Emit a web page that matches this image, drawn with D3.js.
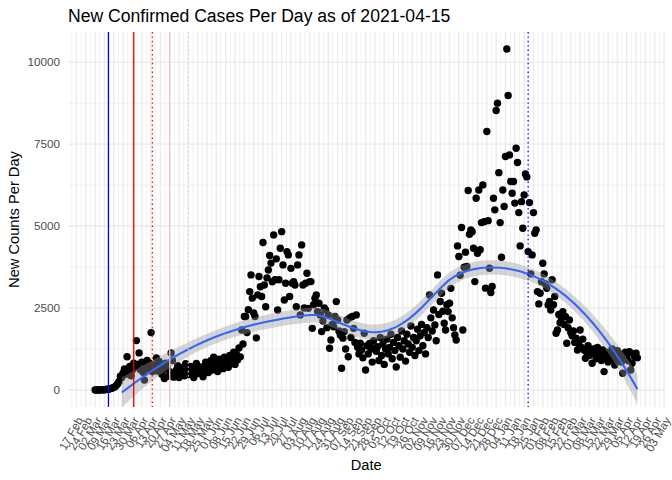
<!DOCTYPE html>
<html><head><meta charset="utf-8">
<script src="https://cdn.jsdelivr.net/npm/d3@7"></script>
<style>body{margin:0;background:#fff} text{font-family:"Liberation Sans",Arial,sans-serif}</style>
</head><body><svg id="c" width="672" height="480"></svg>
<script>
// ---------------- data ----------------
const titleText = "New Confirmed Cases Per Day as of 2021-04-15";
const xTitle = "Date";
const yTitle = "New Counts Per Day";
const startDate = "2020-03-02";
const smoothFrom = "2020-03-22";
const yTicks = [0, 2500, 5000, 7500, 10000];
const newCases = [
0,0,1,0,2,3,5,8,12,20,
25,35,48,60,80,100,140,190,260,420,
380,520,640,480,1015,560,720,430,610,820,
690,1505,780,1130,620,850,540,300,710,900,
640,820,1750,560,760,690,975,580,870,720,
480,610,350,820,700,420,560,1130,900,390,
520,610,740,380,450,680,560,430,800,620,
470,590,720,540,380,660,810,500,620,700,
560,400,720,850,640,530,760,900,610,1000,
700,820,560,940,760,880,650,1000,780,915,
690,1050,860,960,1150,780,1100,920,1280,1010,
1830,1400,2240,2240,1750,2450,3000,3510,2800,2350,
2240,1590,2900,3460,3150,2850,4500,3200,2540,3420,
3660,4100,3870,3300,4730,3360,4000,2440,3360,4325,
4830,3815,2745,3255,4220,4120,2850,3710,3255,3305,
3200,2540,3815,4120,2290,4425,3200,2500,3255,3560,
2490,3305,3305,1880,2600,2800,2900,2390,2645,2290,
1780,2100,2500,2440,1900,2290,1270,1525,2000,1930,
2240,2695,2135,1800,1680,660,1580,1780,1250,2135,
1015,2200,1600,2240,1880,1450,2290,1300,1100,1425,
1220,980,1730,610,1350,1100,1420,1250,850,1500,1280,
1180,1320,900,1600,1050,1400,780,1250,1550,1100,
1300,1700,950,1450,1200,700,1600,1350,1000,1800,
1250,1500,880,1700,1400,1150,1950,1300,1600,1050,
1500,1850,1200,1650,2000,1350,1750,1100,1900,1600,
2900,2200,1800,2440,1985,1500,3510,2300,2700,2950,
2400,2035,1830,2600,2390,2645,3100,2200,1900,1680,
1525,4395,4070,3500,4955,1830,3745,4200,3765,6085,
4750,4885,4830,4325,3305,5850,4170,6100,4275,5105,
6255,5135,3105,7885,5165,3715,2970,3155,5850,5495,
8525,8750,6630,5105,4050,6100,5595,7120,10400,8985,
7170,6360,6000,6360,5700,7375,6940,5410,4395,5745,
4935,5950,6590,6500,4220,5715,3540,4120,5410,4780,
4885,3000,2625,2950,3300,3865,3540,3235,3100,2595,
2700,2440,3360,2600,2850,1730,1830,2300,2050,2190,
2390,2000,2240,1425,1900,2135,1750,1650,1800,1450,
1580,1220,1400,1830,1300,1550,1220,965,1150,1350,
1050,1200,815,1250,1100,950,1300,1050,1150,900,
1220,560,1000,1150,850,915,1100,1250,950,760,
1050,1200,900,1100,850,510,1000,1150,1050,900,
1170,610,815,1100,1015,1120,980
];
const eventDates  = ["2020-03-12","2020-03-31","2020-04-14","2020-04-27","2020-05-11","2021-01-21"];
const eventColors = ["#0000FF","#E00000","#FF0000","#F8BFC4","#FFC0CB","#0000FF"];
const eventDashed = [false,false,true,false,true,true];
const loessSpan = 0.77;

// ---------------- setup ----------------
const parse = d3.utcParse("%Y-%m-%d");
const start = parse(startDate);
const data = newCases.map((v,i)=>({date:d3.utcDay.offset(start,i), value:v}));
const svg = d3.select("#c");
const P = {l:68, r:664.5, t:32, b:407};

const xe = d3.extent(data,d=>d.date), xs = xe[1]-xe[0];
const x = d3.scaleUtc().domain([new Date(+xe[0]-0.05*xs), new Date(+xe[1]+0.05*xs)]).range([P.l,P.r]);
const ymn = d3.min(newCases), ymx = d3.max(newCases), yr = ymx-ymn;
const y = d3.scaleLinear().domain([ymn-0.05*yr, ymx+0.05*yr]).range([P.b,P.t]);

// ---------------- grid ----------------
const grid = svg.append("g");
const majors = d3.utcMonday.range(x.domain()[0], x.domain()[1]);
const minors = [];
majors.forEach(m=>{ minors.push(new Date(+m - 3.5*864e5)); });
minors.push(new Date(+majors[majors.length-1] + 3.5*864e5));
const inX = d=> d>=x.domain()[0] && d<=x.domain()[1];
const yMinor = d3.range(yTicks.length-1).map(i=>(yTicks[i]+yTicks[i+1])/2);
grid.selectAll(".ym").data(yMinor).join("line")
  .attr("x1",P.l).attr("x2",P.r).attr("y1",d=>y(d)).attr("y2",d=>y(d))
  .attr("stroke","#EBEBEB").attr("stroke-width",0.71);
grid.selectAll(".xm").data(minors.filter(inX)).join("line")
  .attr("x1",d=>x(d)).attr("x2",d=>x(d)).attr("y1",P.t).attr("y2",P.b)
  .attr("stroke","#EBEBEB").attr("stroke-width",0.71);
grid.selectAll(".yM").data(yTicks).join("line")
  .attr("x1",P.l).attr("x2",P.r).attr("y1",d=>y(d)).attr("y2",d=>y(d))
  .attr("stroke","#EBEBEB").attr("stroke-width",1.42);
grid.selectAll(".xM").data(majors).join("line")
  .attr("x1",d=>x(d)).attr("x2",d=>x(d)).attr("y1",P.t).attr("y2",P.b)
  .attr("stroke","#EBEBEB").attr("stroke-width",1.42);

// ---------------- points ----------------
svg.append("g").selectAll("circle").data(data).join("circle")
  .attr("cx",d=>x(d.date)).attr("cy",d=>y(d.value)).attr("r",3.7).attr("fill","#000");

// ---------------- loess smooth ----------------
const sm = data.filter(d=>d.date>=parse(smoothFrom));
const t0 = +sm[0].date;
const X = sm.map(d=>(+d.date - t0)/864e5/100), Y = sm.map(d=>d.value);
const n = X.length, q = Math.floor(n*loessSpan);
function inv3(m){
  const [a,b,c]=m[0],[d,e,f]=m[1],[g,h,i]=m[2];
  const A=e*i-f*h, B=-(d*i-f*g), C=d*h-e*g;
  const det=a*A+b*B+c*C;
  return [[A/det,-(b*i-c*h)/det,(b*f-c*e)/det],
          [B/det,(a*i-c*g)/det,-(a*f-c*d)/det],
          [C/det,-(a*h-b*g)/det,(a*e-b*d)/det]];
}
function weightsAt(x0){
  const dist = X.map(v=>Math.abs(v-x0));
  const srt = dist.slice().sort((a,b)=>a-b);
  const h = srt[q-1]*1.0000001;
  const w = dist.map(dd=>{const u=dd/h; return u<1?Math.pow(1-u*u*u,3):0;});
  const S=[[0,0,0],[0,0,0],[0,0,0]];
  for(let k=0;k<n;k++){ if(!w[k]) continue; const t=X[k]-x0, p=[1,t,t*t];
    for(let a=0;a<3;a++) for(let b=0;b<3;b++) S[a][b]+=w[k]*p[a]*p[b]; }
  const r0 = inv3(S)[0];
  return X.map((v,k)=>{const t=v-x0; return w[k]*(r0[0]+r0[1]*t+r0[2]*t*t);});
}
let rss=0, trL=0, trLL=0;
for(let k=0;k<n;k++){
  const l=weightsAt(X[k]); let f=0, ss=0;
  for(let j=0;j<n;j++){ f+=l[j]*Y[j]; ss+=l[j]*l[j]; }
  rss += (Y[k]-f)*(Y[k]-f); trL += l[k]; trLL += ss;
}
const delta1 = n - 2*trL + trLL;
const sigma = Math.sqrt(rss/delta1);
const tq = 1.966;
const evalX = d3.range(80).map(i=>X[0]+(X[n-1]-X[0])*i/79);
const fit = evalX.map(x0=>{
  const l=weightsAt(x0); let f=0, ss=0;
  for(let j=0;j<n;j++){ f+=l[j]*Y[j]; ss+=l[j]*l[j]; }
  const se = sigma*Math.sqrt(ss);
  return {date:new Date(t0 + x0*100*864e5), fit:f, lo:f-tq*se, hi:f+tq*se};
});
svg.append("path").datum(fit)
  .attr("d", d3.area().x(d=>x(d.date)).y0(d=>y(d.lo)).y1(d=>y(d.hi)))
  .attr("fill","#999999").attr("fill-opacity",0.4);
svg.append("path").datum(fit)
  .attr("d", d3.line().x(d=>x(d.date)).y(d=>y(d.fit)))
  .attr("fill","none").attr("stroke","#3366FF").attr("stroke-width",2.1);

// ---------------- event lines ----------------
svg.append("g").selectAll("line").data(eventDates).join("line")
  .attr("x1",d=>x(parse(d))).attr("x2",d=>x(parse(d))).attr("y1",P.t).attr("y2",P.b)
  .attr("stroke",(d,i)=>eventColors[i]).attr("stroke-width",1.3)
  .attr("stroke-dasharray",(d,i)=>eventDashed[i]?"1.4,3":null);

// ---------------- axes text ----------------
svg.append("g").selectAll("text").data(yTicks).join("text")
  .attr("x",60).attr("y",d=>y(d)).attr("dy","0.35em").attr("text-anchor","end")
  .attr("font-size","11.7px").attr("fill","#4D4D4D").text(d=>d);
const fmt = d3.utcFormat("%d %b");
svg.append("g").selectAll("text").data(majors).join("text")
  .attr("transform",d=>`translate(${x(d)},416) rotate(-60)`)
  .attr("dy","0.7em").attr("text-anchor","end")
  .attr("font-size","11.5px").attr("fill","#4D4D4D").text(d=>fmt(d));
svg.append("text").attr("x",(P.l+P.r)/2).attr("y",470).attr("text-anchor","middle")
  .attr("font-size","14.67px").attr("fill","#000").text(xTitle);
svg.append("text").attr("transform",`translate(19,${(P.t+P.b)/2}) rotate(-90)`)
  .attr("text-anchor","middle").attr("font-size","14.67px").attr("fill","#000").text(yTitle);
svg.append("text").attr("x",P.l).attr("y",22).attr("font-size","17.6px").attr("fill","#000").text(titleText);
</script></body></html>
